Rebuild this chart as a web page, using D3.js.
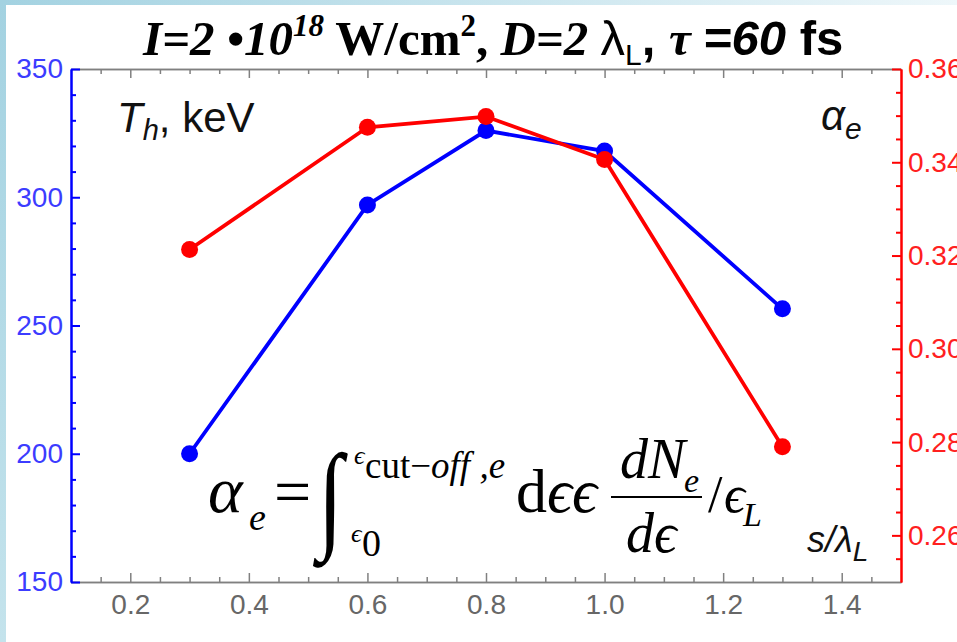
<!DOCTYPE html>
<html>
<head>
<meta charset="utf-8">
<script src="https://d3js.org/d3.v7.min.js"></script>
<style>
  html, body { margin: 0; padding: 0; background: #fff; }
  svg { display: block; }
</style>
</head>
<body>
<div id="chart"></div>
<script>
// data
const sValues = [0.3, 0.6, 0.8, 1.0, 1.3];          // s / lambda_L
const thValues = [200, 297, 326, 318, 256.5];         // T_h, keV (left axis)
const alphaValues = [0.3213, 0.3475, 0.3498, 0.3406, 0.279]; // alpha_e (right axis)

const xMajor = [0.2, 0.4, 0.6, 0.8, 1.0, 1.2, 1.4];
const xMinor = [0.15, 0.25, 0.3, 0.35, 0.45, 0.5, 0.55, 0.65, 0.7, 0.75, 0.85, 0.9, 0.95,
                1.05, 1.1, 1.15, 1.25, 1.3, 1.35, 1.45];
const leftMajor = [150, 200, 250, 300, 350];
const leftMinor = [160, 170, 180, 190, 210, 220, 230, 240, 260, 270, 280, 290, 310, 320, 330, 340];
const rightMajor = [0.26, 0.28, 0.30, 0.32, 0.34, 0.36];
const rightMinor = [0.255, 0.265, 0.27, 0.275, 0.285, 0.29, 0.295, 0.305, 0.31, 0.315,
                    0.325, 0.33, 0.335, 0.345, 0.35, 0.355];

const W = 957, H = 642;
const plot = { left: 71, right: 901, top: 69, bottom: 582 };

const svg = d3.select("#chart").append("svg")
  .attr("width", W)
  .attr("height", H);

// light blue slide border
const defs = svg.append("defs");
const gTop = defs.append("linearGradient").attr("id", "topGrad");
gTop.append("stop").attr("offset", "0%").attr("stop-color", "#a3d2e1");
gTop.append("stop").attr("offset", "100%").attr("stop-color", "#eef7fa");
const gLeft = defs.append("linearGradient").attr("id", "leftGrad")
  .attr("x1", 0).attr("y1", 0).attr("x2", 0).attr("y2", 1);
gLeft.append("stop").attr("offset", "0%").attr("stop-color", "#a3d2e1");
gLeft.append("stop").attr("offset", "100%").attr("stop-color", "#c4e3ec");

svg.append("rect").attr("x", 0).attr("y", 0).attr("width", W).attr("height", 5).attr("fill", "url(#topGrad)");
svg.append("rect").attr("x", 0).attr("y", 0).attr("width", 6).attr("height", H).attr("fill", "url(#leftGrad)");

const x = d3.scaleLinear().domain([0.1, 1.5]).range([plot.left, plot.right]);
const yL = d3.scaleLinear().domain([150, 350]).range([plot.bottom, plot.top]);
const yR = d3.scaleLinear().domain([0.25, 0.36]).range([plot.bottom, plot.top]);

const gray = "#808080";
const sans = "'Liberation Sans', Arial, sans-serif";
const serif = "'Liberation Serif', 'Times New Roman', serif";

// bottom frame
const bottomAx = svg.append("g").attr("transform", "translate(0," + plot.bottom + ")");
bottomAx.call(d3.axisBottom(x).tickValues(xMinor).tickFormat("").tickSize(-5).tickSizeOuter(0));
bottomAx.append("g").call(d3.axisBottom(x).tickValues(xMajor).tickFormat(d3.format(".1f"))
  .tickSize(-9).tickSizeOuter(0).tickPadding(12));
bottomAx.selectAll("path, line").attr("stroke", gray).attr("stroke-width", 1.5);
bottomAx.selectAll("text")
  .attr("fill", "#676767")
  .style("font-family", sans)
  .style("font-size", "28px");

// top frame
const topAx = svg.append("g").attr("transform", "translate(0," + plot.top + ")");
topAx.call(d3.axisTop(x).tickValues(xMinor).tickFormat("").tickSize(-5).tickSizeOuter(0));
topAx.append("g").call(d3.axisTop(x).tickValues(xMajor).tickFormat("").tickSize(-9).tickSizeOuter(0));
topAx.selectAll("path, line").attr("stroke", gray).attr("stroke-width", 1.5);

// left axis (T_h)
const leftAx = svg.append("g").attr("transform", "translate(" + plot.left + ",0)");
leftAx.call(d3.axisLeft(yL).tickValues(leftMinor).tickFormat("").tickSize(-5).tickSizeOuter(0));
leftAx.append("g").call(d3.axisLeft(yL).tickValues(leftMajor).tickFormat(d3.format("d"))
  .tickSize(-9).tickSizeOuter(0).tickPadding(8));
leftAx.selectAll("path, line").attr("stroke", "#0000ff").attr("stroke-width", 2);
leftAx.selectAll("text")
  .attr("fill", "#3c3cff")
  .style("font-family", sans)
  .style("font-size", "28px");

// right axis (alpha_e) - labels run off the right edge as in the original slide
const rightAx = svg.append("g").attr("transform", "translate(" + plot.right + ",0)");
rightAx.call(d3.axisRight(yR).tickValues(rightMinor).tickFormat("").tickSize(-5).tickSizeOuter(0));
rightAx.append("g").call(d3.axisRight(yR).tickValues(rightMajor).tickFormat(d3.format(".2f"))
  .tickSize(-9).tickSizeOuter(0).tickPadding(7));
rightAx.selectAll("path, line").attr("stroke", "#ff0000").attr("stroke-width", 2);
rightAx.selectAll("text")
  .attr("fill", "#ff2020")
  .style("font-family", sans)
  .style("font-size", "28px");

svg.selectAll(".domain").attr("fill", "none");

// series
const rows = sValues.map((s, i) => ({ s: s, th: thValues[i], a: alphaValues[i] }));

const lineBlue = d3.line().x(d => x(d.s)).y(d => yL(d.th));
const lineRed = d3.line().x(d => x(d.s)).y(d => yR(d.a));

svg.append("path").datum(rows)
  .attr("d", lineBlue)
  .attr("fill", "none").attr("stroke", "#0000ff").attr("stroke-width", 3.8);
svg.selectAll(".dotBlue").data(rows).enter().append("circle")
  .attr("class", "dotBlue")
  .attr("cx", d => x(d.s)).attr("cy", d => yL(d.th)).attr("r", 8.5)
  .attr("fill", "#0000ff");

svg.append("path").datum(rows)
  .attr("d", lineRed)
  .attr("fill", "none").attr("stroke", "#ff0000").attr("stroke-width", 3.8);
svg.selectAll(".dotRed").data(rows).enter().append("circle")
  .attr("class", "dotRed")
  .attr("cx", d => x(d.s)).attr("cy", d => yR(d.a)).attr("r", 8.5)
  .attr("fill", "#ff0000");

// title
const title = svg.append("text")
  .attr("x", 143).attr("y", 55)
  .style("font-family", serif).style("font-weight", "bold").style("font-style", "italic")
  .style("font-size", "49px").attr("fill", "#000");
title.append("tspan").text("I=2 \u202210");
title.append("tspan").attr("dy", -19).style("font-size", "31px").text("18");
title.append("tspan").attr("dy", 19).style("font-style", "normal").text(" W/cm");
title.append("tspan").attr("dy", -19).style("font-style", "normal").style("font-size", "31px").text("2");
title.append("tspan").attr("dy", 19).style("font-style", "normal").text(", ");
title.append("tspan").text("D=2 ");
title.append("tspan").style("font-family", sans).style("font-style", "normal").style("font-weight", "normal").text("\u03bb");
title.append("tspan").attr("dy", 10).style("font-family", sans).style("font-style", "normal")
  .style("font-weight", "normal").style("font-size", "30px").text("L");
title.append("tspan").attr("dy", -10).style("font-family", sans).style("font-style", "normal").text(", ");
title.append("tspan").text("\u03c4 ");
title.append("tspan").style("font-family", sans).text("=60");
title.append("tspan").style("font-family", sans).style("font-style", "normal").text(" fs");

// T_h, keV label
const thLab = svg.append("text").attr("x", 117).attr("y", 132)
  .style("font-family", sans).style("font-size", "42px").attr("fill", "#111");
thLab.append("tspan").style("font-style", "italic").text("T");
thLab.append("tspan").attr("dy", 8).style("font-style", "italic").style("font-size", "29px").text("h");
thLab.append("tspan").attr("dy", -8).text(", keV");

// alpha_e label
const aLab = svg.append("text").attr("x", 821).attr("y", 130)
  .style("font-family", sans).style("font-size", "42px").attr("fill", "#111");
aLab.append("tspan").style("font-style", "italic").text("\u03b1");
aLab.append("tspan").attr("dy", 9).style("font-style", "italic").style("font-size", "30px").text("e");

// s/lambda_L label
const sLab = svg.append("text").attr("x", 807).attr("y", 552)
  .style("font-family", sans).style("font-size", "36px").attr("fill", "#111");
sLab.append("tspan").style("font-style", "italic").text("s/\u03bb");
sLab.append("tspan").attr("dy", 9).style("font-style", "italic").style("font-size", "28px").text("L");

// formula
const f = svg.append("g").style("font-family", serif).attr("fill", "#000");
f.append("text").attr("x", 208).attr("y", 512).style("font-style", "italic").style("font-size", "66px").text("\u03b1");
f.append("text").attr("x", 249).attr("y", 530).style("font-style", "italic").style("font-size", "38px").text("e");
f.append("text").attr("x", 274).attr("y", 514).style("font-size", "66px").text("=");
f.append("text").attr("transform", "translate(318,536) scale(0.78,1)")
  .style("font-size", "118px").text("\u222b");
f.append("text").attr("x", 354).attr("y", 464).style("font-style", "italic").style("font-size", "26px").text("\u03f5");
const up = f.append("text").attr("x", 365).attr("y", 478).style("font-size", "37px");
up.append("tspan").text("cut\u2212");
up.append("tspan").style("font-style", "italic").text("off ,e");
f.append("text").attr("x", 351).attr("y", 542).style("font-style", "italic").style("font-size", "26px").text("\u03f5");
f.append("text").attr("x", 362).attr("y", 556).style("font-size", "38px").text("0");
const dee = f.append("text").attr("x", 516).attr("y", 512).style("font-size", "62px");
dee.append("tspan").text("d");
dee.append("tspan").style("font-style", "italic").text("\u03f5\u03f5");
f.append("text").attr("x", 620).attr("y", 478).style("font-style", "italic").style("font-size", "56px").text("dN");
f.append("text").attr("x", 684).attr("y", 492).style("font-style", "italic").style("font-size", "34px").text("e");
f.append("line").attr("x1", 611).attr("x2", 702).attr("y1", 497).attr("y2", 497)
  .attr("stroke", "#000").attr("stroke-width", 2);
f.append("text").attr("x", 626).attr("y", 552).style("font-style", "italic").style("font-size", "56px").text("d\u03f5");
f.append("text").attr("x", 708).attr("y", 512).style("font-size", "52px").text("/");
f.append("text").attr("x", 724).attr("y", 512).style("font-style", "italic").style("font-size", "52px").text("\u03f5");
f.append("text").attr("x", 743).attr("y", 526).style("font-style", "italic").style("font-size", "34px").text("L");
</script>
</body>
</html>
